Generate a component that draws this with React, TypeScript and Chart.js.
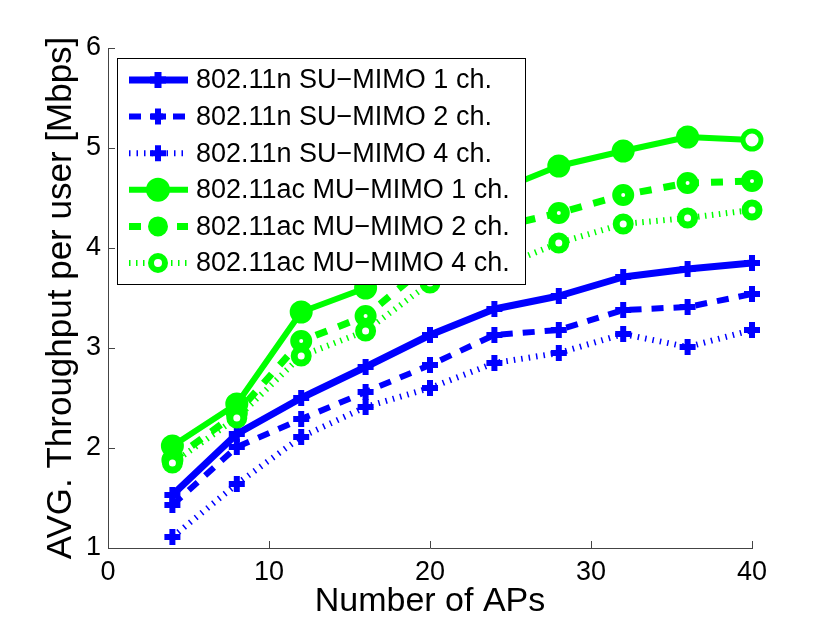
import { useEffect, useRef } from "react";
import { Chart, registerables } from "chart.js";
import { drawPoint } from "chart.js/helpers";
Chart.register(...registerables);

// number of access points (x axis)
const apCounts = [4, 8, 12, 16, 20, 24, 28, 32, 36, 40];

// average throughput per user [Mbps]
const suMimo1ch = [1.53, 2.14, 2.5, 2.81, 3.13, 3.39, 3.52, 3.71, 3.79, 3.85];
const suMimo2ch = [1.43, 2.01, 2.29, 2.56, 2.83, 3.13, 3.18, 3.38, 3.41, 3.54];
const suMimo4ch = [1.11, 1.64, 2.11, 2.41, 2.6, 2.85, 2.95, 3.14, 3.01, 3.18];
const muMimo1ch = [2.02, 2.44, 3.36, 3.6, 4.1, 4.56, 4.82, 4.97, 5.11, 5.08];
const muMimo2ch = [1.88, 2.35, 3.07, 3.32, 3.85, 4.2, 4.35, 4.53, 4.65, 4.67];
const muMimo4ch = [1.85, 2.3, 2.92, 3.17, 3.65, 3.79, 4.05, 4.24, 4.3, 4.38];

const seriesLabels = [
  "802.11n SU\u2212MIMO 1 ch.",
  "802.11n SU\u2212MIMO 2 ch.",
  "802.11n SU\u2212MIMO 4 ch.",
  "802.11ac MU\u2212MIMO 1 ch.",
  "802.11ac MU\u2212MIMO 2 ch.",
  "802.11ac MU\u2212MIMO 4 ch.",
];

const xTickValues = [0, 10, 20, 30, 40];
const yTickValues = [1, 2, 3, 4, 5, 6];

const BLUE = "#0000ff";
const GREEN = "#00ff00";
const FONT = "'Liberation Sans', Arial, Helvetica, sans-serif";

// MATLAB-style inward tick marks on the left and bottom axes
const inwardTicks = {
  id: "inwardTicks",
  afterDraw(chart: Chart) {
    const { ctx, chartArea, scales } = chart;
    ctx.save();
    ctx.strokeStyle = "#444";
    ctx.lineWidth = 1;
    ctx.beginPath();
    xTickValues.forEach((v) => {
      const px = Math.round(scales.x.getPixelForValue(v)) + 0.5;
      ctx.moveTo(px, chartArea.bottom);
      ctx.lineTo(px, chartArea.bottom - 7);
    });
    yTickValues.forEach((v) => {
      const py = Math.round(scales.y.getPixelForValue(v)) + 0.5;
      ctx.moveTo(chartArea.left, py);
      ctx.lineTo(chartArea.left + 7, py);
    });
    ctx.stroke();
    ctx.restore();
  },
};

// boxed legend drawn over the lines, like MATLAB's
const boxLegend = {
  id: "boxLegend",
  afterDraw(chart: Chart) {
    const { ctx } = chart;
    const left = 117, top = 58, width = 408, height = 226;
    ctx.save();
    ctx.fillStyle = "#fff";
    ctx.fillRect(left, top, width, height);
    ctx.strokeStyle = "#000";
    ctx.lineWidth = 1;
    ctx.strokeRect(left + 0.5, top + 0.5, width, height);

    chart.data.datasets.forEach((ds: any, i: number) => {
      const y = top + 22 + i * 36.6;
      ctx.strokeStyle = ds.borderColor;
      ctx.lineWidth = ds.borderWidth;
      ctx.setLineDash(ds.borderDash || []);
      ctx.lineDashOffset = 0;
      ctx.beginPath();
      ctx.moveTo(129, y);
      ctx.lineTo(188, y);
      ctx.stroke();
      ctx.setLineDash([]);

      ctx.fillStyle = ds.legendMarkerFill;
      ctx.strokeStyle = ds.pointBorderColor;
      drawPoint(
        ctx,
        {
          pointStyle: ds.pointStyle,
          rotation: 0,
          radius: ds.pointRadius,
          borderWidth: ds.pointBorderWidth,
        } as any,
        158,
        y
      );

      ctx.fillStyle = "#000";
      ctx.font = `27px ${FONT}`;
      ctx.textAlign = "left";
      ctx.textBaseline = "middle";
      ctx.fillText(seriesLabels[i], 196, y + 1);
    });
    ctx.restore();
  },
};

const ThroughputChart = () => {
  const chartRef = useRef<HTMLCanvasElement | null>(null);
  const chartInstance = useRef<Chart | null>(null);

  useEffect(() => {
    if (!chartRef.current) return;
    const ctx = chartRef.current.getContext("2d");
    if (!ctx) return;

    if (chartInstance.current) {
      chartInstance.current.destroy();
    }

    const toPoints = (vals: number[]) => vals.map((v, i) => ({ x: apCounts[i], y: v }));

    const common = {
      fill: false,
      tension: 0,
      clip: false as any,
      borderJoinStyle: "round" as const,
      pointHoverRadius: 0,
    };

    const datasets: any[] = [
      {
        ...common,
        label: seriesLabels[0],
        data: toPoints(suMimo1ch),
        borderColor: BLUE,
        borderWidth: 7,
        pointStyle: "cross",
        pointRadius: 8,
        pointBorderWidth: 6,
        pointBorderColor: BLUE,
        pointBackgroundColor: BLUE,
        legendMarkerFill: BLUE,
        order: 6,
      },
      {
        ...common,
        label: seriesLabels[1],
        data: toPoints(suMimo2ch),
        borderColor: BLUE,
        borderWidth: 6,
        borderDash: [12, 10],
        pointStyle: "cross",
        pointRadius: 8,
        pointBorderWidth: 6,
        pointBorderColor: BLUE,
        pointBackgroundColor: BLUE,
        legendMarkerFill: BLUE,
        order: 5,
      },
      {
        ...common,
        label: seriesLabels[2],
        data: toPoints(suMimo4ch),
        borderColor: BLUE,
        borderWidth: 6,
        borderDash: [1.5, 6],
        pointStyle: "cross",
        pointRadius: 8,
        pointBorderWidth: 6,
        pointBorderColor: BLUE,
        pointBackgroundColor: BLUE,
        legendMarkerFill: BLUE,
        order: 4,
      },
      {
        ...common,
        label: seriesLabels[3],
        data: toPoints(muMimo1ch),
        borderColor: GREEN,
        borderWidth: 6,
        pointStyle: "circle",
        pointRadius: 9,
        pointBorderWidth: 5,
        pointBorderColor: GREEN,
        pointBackgroundColor: muMimo1ch.map((_, i) => (i === muMimo1ch.length - 1 ? "#fff" : GREEN)),
        legendMarkerFill: GREEN,
        order: 3,
      },
      {
        ...common,
        label: seriesLabels[4],
        data: toPoints(muMimo2ch),
        borderColor: GREEN,
        borderWidth: 7,
        borderDash: [12, 12],
        pointStyle: "circle",
        pointRadius: 6.5,
        pointBorderWidth: 9,
        pointBorderColor: GREEN,
        pointBackgroundColor: "#fff",
        legendMarkerFill: GREEN,
        order: 2,
      },
      {
        ...common,
        label: seriesLabels[5],
        data: toPoints(muMimo4ch),
        borderColor: GREEN,
        borderWidth: 6,
        borderDash: [1.5, 5.5],
        pointStyle: "circle",
        pointRadius: 7,
        pointBorderWidth: 7,
        pointBorderColor: GREEN,
        pointBackgroundColor: "#fff",
        legendMarkerFill: "#fff",
        order: 1,
      },
    ];

    chartInstance.current = new Chart(ctx, {
      type: "line",
      data: { datasets },
      options: {
        responsive: false,
        animation: false,
        devicePixelRatio: 1,
        layout: { padding: { left: 0, top: 48, right: 78, bottom: 0 } },
        plugins: {
          legend: { display: false },
          tooltip: { enabled: false },
        },
        scales: {
          x: {
            type: "linear",
            min: 0,
            max: 40,
            afterBuildTicks: (scale: any) => {
              scale.ticks = xTickValues.map((v) => ({ value: v }));
            },
            afterFit: (scale: any) => {
              scale.height = 77;
            },
            grid: { display: false, drawTicks: false },
            border: { display: true, color: "#444", width: 1 },
            ticks: {
              color: "#000",
              padding: 8,
              font: { family: FONT, size: 27 },
              maxRotation: 0,
            },
            title: {
              display: true,
              text: "Number of APs",
              color: "#000",
              font: { family: FONT, size: 34 },
              padding: { top: 0, bottom: 3 },
            },
          },
          y: {
            type: "linear",
            min: 1,
            max: 6,
            afterBuildTicks: (scale: any) => {
              scale.ticks = yTickValues.map((v) => ({ value: v }));
            },
            afterFit: (scale: any) => {
              scale.width = 108;
            },
            grid: { display: false, drawTicks: false },
            border: { display: true, color: "#444", width: 1 },
            ticks: {
              color: "#000",
              padding: 7,
              font: { family: FONT, size: 27 },
            },
            title: {
              display: true,
              text: "AVG. Throughput per user [Mbps]",
              color: "#000",
              font: { family: FONT, size: 35 },
              padding: { top: 40, bottom: 0 },
            },
          },
        },
      } as any,
      plugins: [inwardTicks, boxLegend],
    });

    return () => {
      if (chartInstance.current) {
        chartInstance.current.destroy();
        chartInstance.current = null;
      }
    };
  }, []);

  return (
    <div style={{ position: "absolute", left: 0, top: 0, width: 830, height: 625, background: "#fff" }}>
      <canvas ref={chartRef} width={830} height={625} style={{ display: "block" }}></canvas>
    </div>
  );
};

export default function App() {
  return <ThroughputChart />;
}
